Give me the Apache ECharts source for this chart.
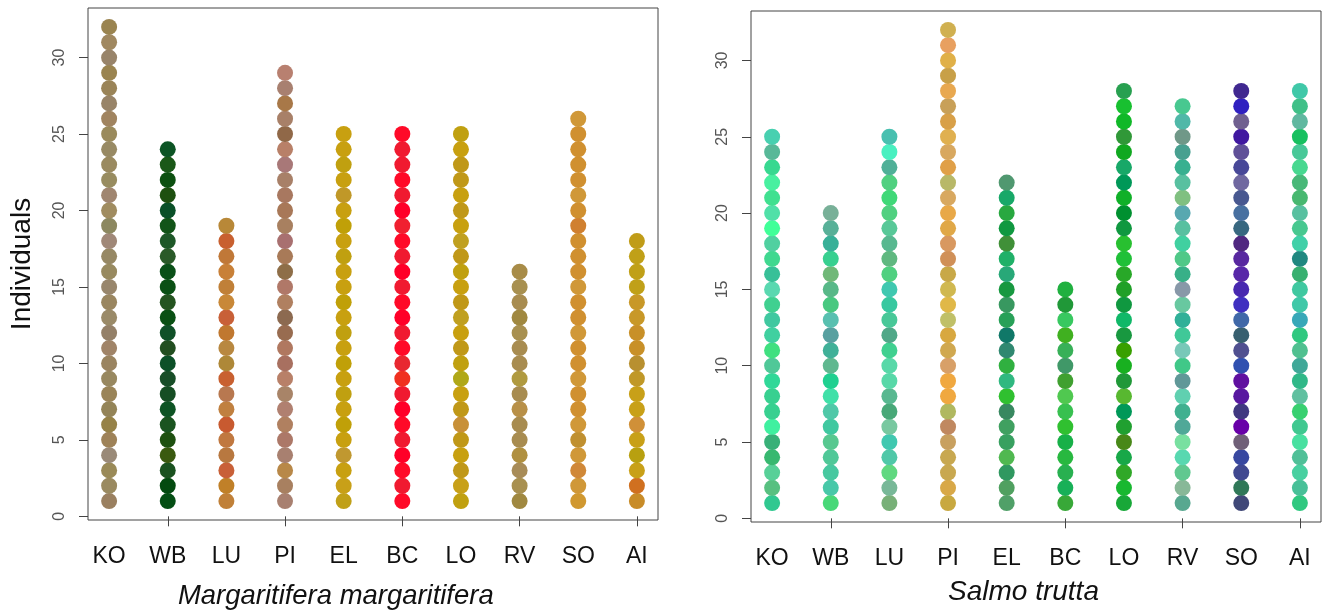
<!DOCTYPE html>
<html lang="en">
<head>
<meta charset="UTF-8">
<title>Individuals per site</title>
<style>
  * { margin: 0; padding: 0; }
  body { background: #fff; }
  #chart { width: 1329px; height: 615px; }
</style>
</head>
<body>
<div id="chart"></div>
<script src="https://cdn.jsdelivr.net/npm/echarts@6/dist/echarts.min.js"></script>
<script>
// sites along the x axis
var sites = ['KO', 'WB', 'LU', 'PI', 'EL', 'BC', 'LO', 'RV', 'SO', 'AI'];
// number of individuals per site
var musselCounts = [32, 24, 19, 29, 25, 25, 25, 16, 26, 18];
var troutCounts = [25, 20, 25, 32, 22, 15, 28, 27, 28, 28];
var yTicks = [0, 5, 10, 15, 20, 25, 30];
var xTicks = [2, 4, 6, 8, 10];

// dot colours, bottom to top, one list per site
var musselColors = [
  ['#9a8060','#9a8a60','#9a8a58','#9a8a78','#9e8258','#968248','#948458','#9a8458','#988860','#9a8460','#a08468','#948068','#9a8a68','#9a8660','#98866c','#988a60','#968864','#a08878','#8c8860','#a08c60','#a08670','#988c60','#9a8a60','#988a64','#9a8a5c','#a08460','#988468','#9a8458','#9a8450','#98846a','#a08860','#9a8450'],
  ['#044e14','#034a10','#1a5220','#3a5a10','#1e5010','#1a5420','#0e5424','#164e24','#184e28','#0c5028','#224e20','#105028','#0a5014','#245420','#0a5014','#0a5018','#2a5a28','#1e5828','#125418','#0a5028','#1e5010','#0c5010','#1a5818','#0c5424'],
  ['#c08038','#c08028','#c86038','#b87840','#c07840','#c85a30','#c08040','#b87850','#c86030','#ae8838','#b88840','#c07830','#c86038','#c88838','#c08038','#c88038','#c07838','#c86030','#b88838'],
  ['#a88070','#a88060','#b88848','#a88070','#ac7868','#b08060','#b08070','#a88468','#b88068','#a87060','#b07860','#986c50','#8c6a50','#b08060','#b07868','#8e6e48','#a87a58','#a87070','#a88060','#a87858','#a87860','#a88068','#a87878','#b88068','#906848','#a88068','#a87848','#a88070','#b88070'],
  ['#c0a018','#c8a018','#c8a010','#c09830','#c8a010','#c0a008','#c8a010','#c0a010','#c8a010','#c0a008','#c8a010','#c0a010','#c8a010','#c0a008','#c8a010','#c8a010','#c0a010','#c8a010','#c0a008','#c8a010','#c09828','#c8a010','#c0a010','#c8a010','#c8a010'],
  ['#ff0a28','#f01a30','#ff0a28','#ff0028','#f01a30','#ff0a28','#ff0028','#f01a30','#f03020','#e82830','#ff0a28','#f01a30','#ff0028','#ff0a28','#f01a30','#ff0028','#f01a30','#ff0a28','#f02030','#ff0028','#f01a30','#ff0a28','#f01a30','#f01a30','#ff0a28'],
  ['#c0a010','#c8a018','#c09818','#c8a010','#c09818','#c89038','#c09818','#c8a010','#b0a818','#c0a010','#c09818','#c8a010','#c0a020','#c09818','#c8a010','#c0a010','#c09818','#c0a020','#c8a010','#c09818','#c8a010','#c09818','#c09818','#c8a010','#c0a010'],
  ['#a08840','#a89050','#a88c58','#b09040','#a88c50','#a88c50','#b89048','#a88c50','#b09a40','#a88c50','#a88c50','#a89050','#a08840','#a88c50','#a89050','#a88c48'],
  ['#d09830','#d09838','#d08838','#d09838','#c09030','#d09838','#d09030','#d09030','#d09838','#d09030','#d09030','#d09838','#d09030','#d09030','#d09838','#d09030','#d09030','#d09030','#d08030','#d09030','#d09838','#d09030','#d09030','#d09030','#d09030','#d09838'],
  ['#c88c28','#d07020','#c8a018','#b8a010','#c8a018','#d09038','#c8a018','#c8a018','#c09828','#b89030','#c89028','#c89028','#c89828','#c89828','#c0a018','#c0a018','#c0a018','#c09c18']
];
var troutColors = [
  ['#30c890','#58c080','#58d098','#38b870','#38b078','#40f0a0','#38d090','#38d090','#30d898','#50c898','#40e080','#40d0a0','#40c8a0','#40d090','#5ad8b0','#38c098','#40d890','#50d0a0','#40ff98','#50e0a8','#40e090','#48f0a0','#38d890','#58b898','#48d0b0'],
  ['#48d878','#48c8a8','#48c8a0','#50c898','#58c890','#40c8a0','#50c8a8','#40e0a8','#20d090','#60b890','#40b098','#58a0a0','#58c0b0','#48c880','#58b888','#70b878','#38d090','#38b098','#58b098','#78b098'],
  ['#78b078','#78b898','#60d880','#50c8a8','#40c8b0','#78c8a0','#48a878','#58b890','#58d8a8','#58d8a8','#40d090','#50a888','#48c898','#38c8a0','#40c8b0','#50d080','#60b880','#58b890','#58c898','#50d080','#40d878','#50d080','#50b098','#48f0c0','#48c0b0'],
  ['#c8a840','#d8a848','#c8a850','#c8a850','#c8a060','#c08860','#b0b860','#f0a840','#f0a840','#d8a068','#d0a850','#d8a840','#c0c068','#e0b848','#d0b850','#c8a848','#d09058','#d89860','#e0a848','#e8a848','#d8a860','#b8b868','#e0a048','#d8a860','#e0b050','#d8a048','#c8a058','#e8a850','#c8a048','#e0b048','#e8a060','#d0b050'],
  ['#50a068','#50a060','#309860','#50b850','#38a060','#40a060','#388860','#30c030','#30b880','#30b040','#308870','#107868','#28a058','#389860','#189840','#28a878','#20b068','#409038','#109840','#28a840','#18a868','#509870'],
  ['#38a838','#18b058','#28b050','#28b840','#18b048','#30c030','#38c050','#50c850','#40a030','#409868','#38b058','#40b020','#38c860','#209838','#20b040'],
  ['#18a838','#18b830','#30a828','#18a848','#488818','#20a030','#009858','#58b830','#209838','#18b020','#38a000','#189840','#10b868','#109840','#20a028','#28a828','#20c038','#28c030','#109840','#009030','#10b028','#009858','#18a868','#10a820','#309838','#10b828','#18c030','#28a050'],
  ['#58a890','#88b898','#60c890','#58d8b0','#78e0a0','#50a898','#40b090','#60d0b0','#609898','#40c888','#78c8b8','#40c898','#30b098','#68c8a0','#8898a8','#38b088','#50c888','#40d0a0','#58c0a0','#58a8b0','#80c080','#58c0a0','#38b090','#48a090','#709888','#50b8a8','#48c890'],
  ['#404878','#307858','#404890','#3848a0','#706078','#6800a8','#403880','#5818a0','#6010a0','#3050b0','#505090','#386070','#4068a8','#4030c0','#4828b0','#5828a8','#5828a0','#502880','#386880','#4870a0','#485890','#7068a0','#484898','#605098','#4018a0','#706090','#3020c0','#402890'],
  ['#30c880','#48c098','#48d0a0','#50c098','#48e0a0','#40c890','#38d070','#60c0a0','#30b888','#40a898','#50c090','#30c880','#38a8b8','#40c8a8','#40c8a0','#38b070','#208880','#40d0a8','#48c890','#58c0a0','#48b870','#48b878','#48d890','#48c898','#18c060','#60b8a0','#40c088','#40c8a8']
];

function buildDots(counts, colors) {
  var out = [];
  for (var i = 0; i < sites.length; i++) {
    for (var k = 1; k <= counts[i]; k++) {
      out.push({ value: [i + 1, k], itemStyle: { color: colors[i][k - 1] } });
    }
  }
  return out;
}

var font = 'Liberation Sans, Arial, sans-serif';

function xAxisFor(idx) {
  return {
    type: 'value', gridIndex: idx,
    min: 0.64, max: 10.36,
    splitLine: { show: false },
    axisLine: { show: false },
    axisTick: { show: true, length: 10, customValues: xTicks, lineStyle: { color: '#444' } },
    axisLabel: {
      customValues: [1, 2, 3, 4, 5, 6, 7, 8, 9, 10],
      formatter: function (v) { return sites[Math.round(v) - 1]; },
      color: '#111', fontSize: 23, fontFamily: font, margin: 25
    }
  };
}

function yAxisFor(idx, name) {
  return {
    type: 'value', gridIndex: idx,
    min: -0.24, max: 33.24,
    name: name, nameLocation: 'middle', nameGap: 52, nameRotate: 90,
    nameTextStyle: { fontSize: 28, fontFamily: font, color: '#111' },
    splitLine: { show: false },
    axisLine: { show: false },
    axisTick: { show: true, length: 9, customValues: yTicks, lineStyle: { color: '#444' } },
    axisLabel: {
      customValues: yTicks, rotate: 90,
      color: '#555', fontSize: 16, fontFamily: font, margin: 20
    }
  };
}

var chart = echarts.init(document.getElementById('chart'));
chart.setOption({
  animation: false,
  grid: [
    { left: 88, top: 8, width: 570, height: 512, show: true, borderColor: '#444', borderWidth: 1 },
    { left: 751, top: 11, width: 570, height: 511, show: true, borderColor: '#444', borderWidth: 1 }
  ],
  xAxis: [xAxisFor(0), xAxisFor(1)],
  yAxis: [yAxisFor(0, 'Individuals'), yAxisFor(1, '')],
  graphic: [
    { type: 'text', x: 178, y: 582, scaleX: 0.98, style: { text: 'Margaritifera margaritifera', font: 'italic 28px ' + font, fill: '#111' } },
    { type: 'text', x: 948, y: 578, style: { text: 'Salmo trutta', font: 'italic 28px ' + font, fill: '#111' } }
  ],
  series: [
    { type: 'scatter', xAxisIndex: 0, yAxisIndex: 0, symbolSize: 16, itemStyle: { opacity: 1 }, data: buildDots(musselCounts, musselColors) },
    { type: 'scatter', xAxisIndex: 1, yAxisIndex: 1, symbolSize: 16, itemStyle: { opacity: 1 }, data: buildDots(troutCounts, troutColors) }
  ]
});
</script>
</body>
</html>
